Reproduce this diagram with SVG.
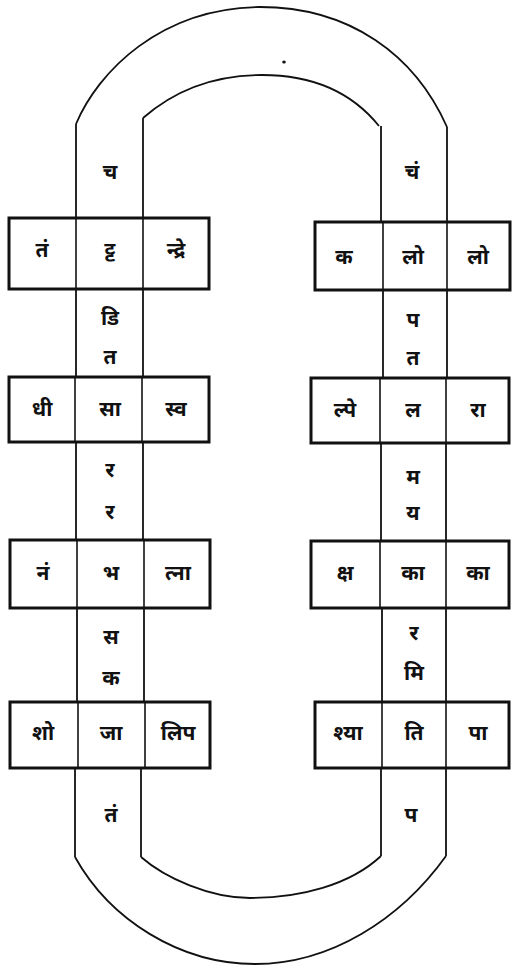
<svg xmlns="http://www.w3.org/2000/svg" width="512" height="968" viewBox="0 0 512 968">
<style>
.t{font-family:"Noto Sans Devanagari","Noto Serif Devanagari","Lohit Devanagari","FreeSans","Noto Sans",sans-serif;font-size:21px;font-weight:bold;fill:#111;text-anchor:middle}
.box{fill:none;stroke:#111;stroke-width:3}
.div{stroke:#111;stroke-width:1.6}
.ln{fill:none;stroke:#111;stroke-width:1.8}
</style>
<rect width="512" height="968" fill="#fff"/>
<g id="connectors">
<path class="ln" d="M76,124 C98,72 160,8 260,7 C350,7 415,55 447,127"/>
<path class="ln" d="M143,118 C175,90 215,75 262,75 C310,75 350,90 379,126"/>
<path class="ln" d="M76,124 V218 M143,118 V218 M381,126 V222 M447,127 V222"/>
<path class="ln" d="M76,289 V377 M143,289 V377 M76,442 V540 M143,442 V540 M77,608 V702 M144,608 V702"/>
<path class="ln" d="M383,290 V378 M447,290 V378 M381,443 V541 M446,443 V541 M382,608 V702 M446,608 V702"/>
<path class="ln" d="M75,768 V857 M141,768 V857 M381,768 V856 M446,768 V856"/>
<path class="ln" d="M75,857 C110,920 180,964 255,964 C330,964 400,920 446,856"/>
<path class="ln" d="M141,857 C165,878 210,898 250,898 C300,898 350,885 381,856"/>
<ellipse cx="284" cy="62" rx="1.8" ry="1.5" fill="#111"/>
</g>
<g id="stem-left">
<text class="t" x="110" y="179">च</text>
<text class="t" x="110" y="325">डि</text>
<text class="t" x="110" y="364">त</text>
<text class="t" x="110" y="477">र</text>
<text class="t" x="110" y="519">र</text>
<text class="t" x="111" y="644">स</text>
<text class="t" x="111" y="685">क</text>
<text class="t" x="111" y="822">तं</text>
</g>
<g id="stem-right">
<text class="t" x="412" y="179">चं</text>
<text class="t" x="413" y="327">प</text>
<text class="t" x="413" y="365">त</text>
<text class="t" x="413" y="484">म</text>
<text class="t" x="413" y="520">य</text>
<text class="t" x="414" y="640">र</text>
<text class="t" x="414" y="680">मि</text>
<text class="t" x="411" y="822">प</text>
</g>
<g id="left-row1">
<rect class="box" x="9" y="218" width="200" height="71"/>
<line class="div" x1="76" y1="218" x2="76" y2="289"/><line class="div" x1="143" y1="218" x2="143" y2="289"/>
<text class="t" x="42" y="257">तं</text><text class="t" x="110" y="257">ट्ट</text><text class="t" x="176" y="257">न्द्रे</text>
</g>
<g id="left-row2">
<rect class="box" x="9" y="377" width="200" height="65"/>
<line class="div" x1="75" y1="377" x2="75" y2="442"/><line class="div" x1="142" y1="377" x2="142" y2="442"/>
<text class="t" x="42" y="416">धी</text><text class="t" x="110" y="416">सा</text><text class="t" x="176" y="416">स्व</text>
</g>
<g id="left-row3">
<rect class="box" x="10" y="540" width="200" height="68"/>
<line class="div" x1="77" y1="540" x2="77" y2="608"/><line class="div" x1="144" y1="540" x2="144" y2="608"/>
<text class="t" x="43" y="580">नं</text><text class="t" x="111" y="580">भ</text><text class="t" x="178" y="580">त्ना</text>
</g>
<g id="left-row4">
<rect class="box" x="10" y="702" width="200" height="66"/>
<line class="div" x1="78" y1="702" x2="78" y2="768"/><line class="div" x1="145" y1="702" x2="145" y2="768"/>
<text class="t" x="43" y="740">शो</text><text class="t" x="111" y="740">जा</text><text class="t" x="178" y="740">लिप</text>
</g>
<g id="right-row1">
<rect class="box" x="315" y="222" width="195" height="68"/>
<line class="div" x1="383" y1="222" x2="383" y2="290"/><line class="div" x1="447" y1="222" x2="447" y2="290"/>
<text class="t" x="344" y="264">क</text><text class="t" x="413" y="264">लो</text><text class="t" x="478" y="264">लो</text>
</g>
<g id="right-row2">
<rect class="box" x="311" y="378" width="198" height="65"/>
<line class="div" x1="380" y1="378" x2="380" y2="443"/><line class="div" x1="446" y1="378" x2="446" y2="443"/>
<text class="t" x="345" y="417">ल्पे</text><text class="t" x="413" y="417">ल</text><text class="t" x="478" y="417">रा</text>
</g>
<g id="right-row3">
<rect class="box" x="311" y="541" width="198" height="67"/>
<line class="div" x1="380" y1="541" x2="380" y2="608"/><line class="div" x1="446" y1="541" x2="446" y2="608"/>
<text class="t" x="345" y="580">क्ष</text><text class="t" x="413" y="580">का</text><text class="t" x="478" y="580">का</text>
</g>
<g id="right-row4">
<rect class="box" x="315" y="702" width="194" height="66"/>
<line class="div" x1="382" y1="702" x2="382" y2="768"/><line class="div" x1="446" y1="702" x2="446" y2="768"/>
<text class="t" x="348" y="740">श्या</text><text class="t" x="414" y="740">ति</text><text class="t" x="478" y="740">पा</text>
</g>
</svg>
